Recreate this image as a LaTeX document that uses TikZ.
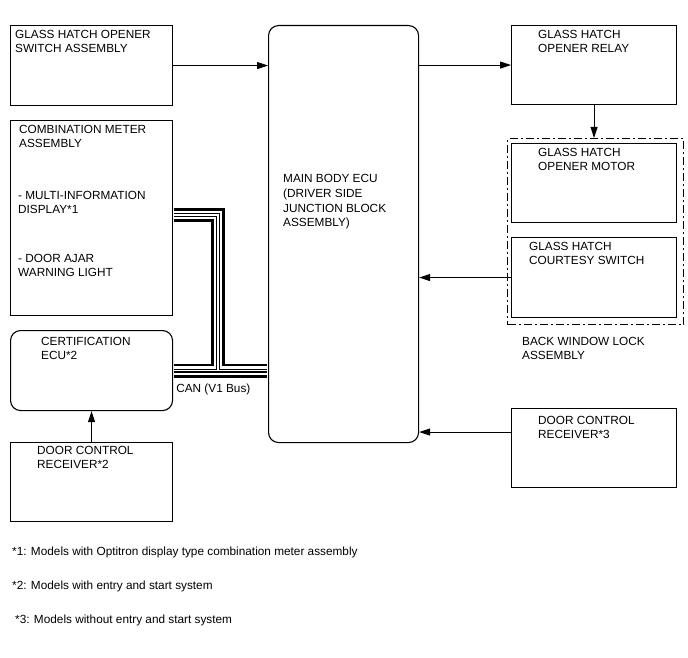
\documentclass[tikz,border=0pt]{standalone}
\usepackage{fontspec}
\setmainfont{Liberation Sans}
\usetikzlibrary{arrows.meta, positioning}

\begin{document}
\begin{tikzpicture}[x=1pt, y=-1pt, >={Triangle[length=11pt, width=7pt]},
  unit/.style={draw, line width=1.1pt, anchor=north west, inner sep=0pt, minimum width=162pt, minimum height=80pt},
  ecu/.style={unit, rounded corners=10pt},
  lockbox/.style={draw, line width=1.1pt, dash pattern=on 8pt off 3pt on 2pt off 3pt, anchor=north west, inner sep=0pt},
  tag/.style={anchor=north west, align=left, inner sep=0pt, font=\fontsize{11.8}{14}\selectfont},
  link/.style={->, line width=0.9pt}]

  \useasboundingbox (0,0) rectangle (688,658);

  % boxes
  \node[unit] (switch) at (10,25) {};
  \node[unit, minimum height=195pt] (meter) at (10,120) {};
  \node[ecu] (cert) at (10,330) {};
  \node[unit, minimum height=79pt] (rxtwo) at (10,442) {};
  \node[ecu, minimum width=150pt, minimum height=417pt] (main) at (268,25) {};
  \node[unit, minimum width=165pt, minimum height=79pt] (relay) at (511,25) {};
  \node[lockbox, minimum width=176pt, minimum height=186pt] (lockassy) at (507,138) {};
  \node[unit, minimum width=165pt, minimum height=79pt] (motor) at (511,143) {};
  \node[unit, minimum width=165pt] (courtesy) at (511,237) {};
  \node[unit, minimum width=165pt, minimum height=79pt] (rxthree) at (511,408) {};

  % labels
  \node[tag, below right=5pt and 5pt of switch.north west] (switchtxt) {GLASS HATCH OPENER\\SWITCH ASSEMBLY};
  \node[tag, below right=5pt and 9pt of meter.north west] (metertxt) {COMBINATION METER\\ASSEMBLY};
  \node[tag, below right=71pt and 8pt of meter.north west] (mididtxt) {- MULTI-INFORMATION\\DISPLAY*1};
  \node[tag, below right=134pt and 8pt of meter.north west] (ajartxt) {- DOOR AJAR\\WARNING LIGHT};
  \node[tag, below right=7pt and 31pt of cert.north west] (certtxt) {CERTIFICATION\\ECU*2};
  \node[tag, below right=4pt and 27pt of rxtwo.north west] (rxtwotxt) {DOOR CONTROL\\RECEIVER*2};
  \node[tag, below right=149pt and 15pt of main.north west, font=\fontsize{11.8}{14.8}\selectfont] (maintxt)
    {MAIN BODY ECU\\(DRIVER SIDE\\JUNCTION BLOCK\\ASSEMBLY)};
  \node[tag, below right=5pt and 27pt of relay.north west] (relaytxt) {GLASS HATCH\\OPENER RELAY};
  \node[tag, below right=5pt and 27pt of motor.north west] (motortxt) {GLASS HATCH\\OPENER MOTOR};
  \node[tag, below right=5pt and 18pt of courtesy.north west] (courtesytxt) {GLASS HATCH\\COURTESY SWITCH};
  \node[tag, below right=12pt and 15pt of lockassy.south west] (locktxt) {BACK WINDOW LOCK\\ASSEMBLY};
  \node[tag, below right=8pt and 27pt of rxthree.north west] (rxthreetxt) {DOOR CONTROL\\RECEIVER*3};
  \node[tag, below right=13pt and 3pt of cert.east] (cantxt) {CAN (V1 Bus)};

  % notes
  \node[tag] (noteone) at (12,547) {*1: Models with Optitron display type combination meter assembly};
  \node[tag] (notetwo) at (12,581) {*2: Models with entry and start system};
  \node[tag] (notethree) at (15,615) {*3: Models without entry and start system};

  % CAN bus
  \coordinate (canjoin) at (218,370);
  \foreach \w/\c in {14/black, 8.5/white, 4/black, 1.6/white} {
    \draw[line width=\w pt, \c, shorten <=0.6pt] ([yshift=3pt]meter.east) -| (canjoin);
    \draw[line width=\w pt, \c, shorten <=0.6pt, shorten >=0.6pt] (cert.east) -- (cert.east -| main.west);
  }

  % signals
  \draw[link] (switch.east) -- (switch.east -| main.west);
  \draw[link] (main.east |- relay.west) -- (relay.west);
  \draw[link] (relay.south) -- (relay.south |- lockassy.north);
  \draw[link] (courtesy.west) -- (courtesy.west -| main.east);
  \draw[link] ([yshift=16pt]rxthree.west) -- ([yshift=16pt]rxthree.west -| main.east);
  \draw[link] (rxtwo.north) -- (cert.south);
\end{tikzpicture}
\end{document}
